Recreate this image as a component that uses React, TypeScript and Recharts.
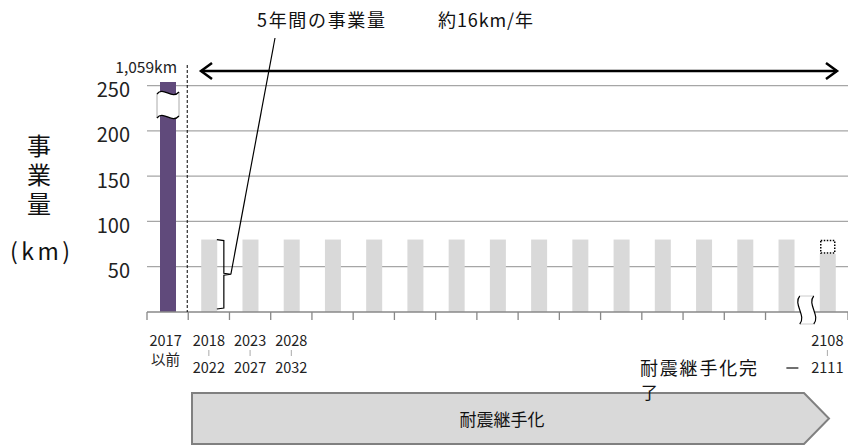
import React from 'react';
import { BarChart, Bar, XAxis, YAxis, CartesianGrid } from 'recharts';

// 事業量 (km) by period
const categories = [
  '2017以前', '2018-2022', '2023-2027', '2028-2032', '2033-2037', '2038-2042',
  '2043-2047', '2048-2052', '2053-2057', '2058-2062', '2063-2067', '2068-2072',
  '2073-2077', '2078-2082', '2083-2087', '2088-2092', '2108-2111'
];
const amounts = [1059, 80, 80, 80, 80, 80, 80, 80, 80, 80, 80, 80, 80, 80, 80, 80, 64];
const shortfall = [0, 0, 0, 0, 0, 0, 0, 0, 0, 0, 0, 0, 0, 0, 0, 0, 16];
const labelTop = ['2017', '2018', '2023', '2028', '', '', '', '', '', '', '', '', '', '', '', '', '2108'];
const labelBottom = ['以前', '2022', '2027', '2032', '', '', '', '', '', '', '', '', '', '', '', '', '2111'];
const yTicks = [50, 100, 150, 200, 250];

const W = 848;
const H = 445;
const Y_MAX = 254;
const MARGIN = { top: 82, right: 0, bottom: 103, left: 87 };
const Y_WIDTH = 60;
const X_HEIGHT = 30;
const PLOT_LEFT = MARGIN.left + Y_WIDTH;
const PLOT_BOTTOM = H - MARGIN.bottom - X_HEIGHT;
const PLOT_H = PLOT_BOTTOM - MARGIN.top;
const BAND = (W - MARGIN.right - PLOT_LEFT) / categories.length;
const BAR = 16;

const FONT = '"Noto Sans CJK JP", "Noto Sans", sans-serif';
const PURPLE = '#604a7b';
const GRAY = '#d9d9d9';

const yOf = (v: number) => PLOT_BOTTOM - (v / Y_MAX) * PLOT_H;

const data = categories.map((c, i) => ({ cat: c, amount: amounts[i], rest: shortfall[i] }));

const AmountShape = (props: any) => {
  const { x, y, width, height, index } = props;
  const fill = index === 0 ? PURPLE : GRAY;
  if (index !== 0) return <rect x={x} y={y} width={width} height={height} fill={fill} />;
  const cx = x + width / 2;
  const l = cx - 11;
  const r = cx + 11;
  const t = MARGIN.top + 11;
  const b = t + 24;
  return (
    <g>
      <rect x={x} y={y} width={width} height={height} fill={fill} />
      <path d={`M${l},${t + 1} C${l + 6},${t - 7} ${l + 15},${t + 7} ${r},${t - 1} L${r},${b - 1} C${l + 15},${b + 7} ${l + 6},${b - 7} ${l},${b + 1} Z`} fill="#fff" />
      <line x1={l} y1={t + 1} x2={l} y2={b + 1} stroke="#aaa" />
      <line x1={r} y1={t - 1} x2={r} y2={b - 1} stroke="#aaa" />
      <path d={`M${l},${t + 1} C${l + 6},${t - 7} ${l + 15},${t + 7} ${r},${t - 1}`} fill="none" stroke="#000" strokeWidth={1.3} />
      <path d={`M${l},${b + 1} C${l + 6},${b - 7} ${l + 15},${b + 7} ${r},${b - 1}`} fill="none" stroke="#000" strokeWidth={1.3} />
    </g>
  );
};

const RestShape = (props: any) => {
  const { x, y, width, height } = props;
  if (!height || height <= 0) return null;
  return (
    <rect x={x + 1} y={y + 1} width={width - 2} height={height - 2} fill="none"
      stroke="#000" strokeWidth={1.5} strokeDasharray="1.5 1.5" />
  );
};

const YTick = (props: any) => {
  const { y, payload } = props;
  return (
    <text x={PLOT_LEFT - 17} y={y + 3} textAnchor="end" dominantBaseline="central"
      fontSize={20} fill="#222" fontFamily={FONT}>{payload.value}</text>
  );
};

const XTick = (props: any) => {
  const { x, payload } = props;
  const i = payload.index ?? props.index;
  const half = BAND / 2;
  const last = i === categories.length - 1;
  const top = labelTop[i];
  const bottom = labelBottom[i];
  const ty = PLOT_BOTTOM;
  return (
    <g>
      <line x1={x - half} y1={ty} x2={x - half} y2={ty + 8} stroke="#888" strokeWidth={1.3} />
      {last && <line x1={x + half} y1={ty} x2={x + half} y2={ty + 8} stroke="#888" strokeWidth={1.3} />}
      {i === 0 && (
        <line x1={x + half - 1} y1={MARGIN.top - 17} x2={x + half - 1} y2={ty} stroke="#000"
          strokeWidth={1} strokeDasharray="3 2" />
      )}
      {top && (
        <text x={i === 0 ? x - 2 : x} y={ty + 27} textAnchor="middle" dominantBaseline="central"
          fontSize={14.5} fill="#222" fontFamily={FONT}>{top}</text>
      )}
      {bottom && (
        <text x={i === 0 ? x - 2 : x} y={i === 0 ? ty + 46 : ty + 54} textAnchor="middle" dominantBaseline="central"
          fontSize={14.5} fill="#222" fontFamily={FONT}>{bottom}</text>
      )}
      {i > 0 && top && (
        <line x1={x} y1={ty + 38} x2={x} y2={ty + 44} stroke="#aaa" strokeWidth={1} />
      )}
      {i === 1 && (() => {
        const bx = x + BAR / 2;
        const bt = yOf(amounts[1]);
        const bb = yOf(0) - 3;
        const bm = (bt + bb) / 2;
        return (
          <g>
            <path d={`M${bx},${bt} L${bx + 7},${bt + 1} L${bx + 7},${bm - 1} L${bx + 14},${bm} L${bx + 7},${bm + 1} L${bx + 7},${bb - 1} L${bx},${bb}`}
              fill="none" stroke="#000" strokeWidth={1.2} />
            <line x1={bx + 14} y1={bm} x2={275} y2={38} stroke="#000" strokeWidth={1.2} />
          </g>
        );
      })()}
      {last && (() => {
        const bx = x - half;
        const t = ty - 16;
        const b = ty + 12;
        const l = bx - 7;
        const r = bx + 7;
        return (
          <g>
            <path d={`M${l},${t} C${l - 7},${t + 8} ${l + 7},${b - 8} ${l},${b} L${r},${b} C${r + 7},${b - 8} ${r - 7},${t + 8} ${r},${t} Z`} fill="#fff" />
            <line x1={l} y1={t} x2={r} y2={t} stroke="#ccc" />
            <line x1={l} y1={b} x2={r} y2={b} stroke="#ccc" />
            <path d={`M${l},${t} C${l - 7},${t + 8} ${l + 7},${b - 8} ${l},${b}`} fill="none" stroke="#000" strokeWidth={1.2} />
            <path d={`M${r},${t} C${r - 7},${t + 8} ${r + 7},${b - 8} ${r},${b}`} fill="none" stroke="#000" strokeWidth={1.2} />
            <line x1={x - 41} y1={ty + 56} x2={x - 29} y2={ty + 56} stroke="#222" strokeWidth={1.3} />
          </g>
        );
      })()}
    </g>
  );
};

const Overlay: React.FC = () => (
  <svg width={W} height={H} style={{ position: 'absolute', left: 0, top: 0, pointerEvents: 'none' }}
    fontFamily={FONT}>
    <text x={257} y={19} dominantBaseline="central" fontSize={18} textLength={128} fill="#111">5年間の事業量</text>
    <text x={438} y={19} dominantBaseline="central" fontSize={18} textLength={95} fill="#111">約16km/年</text>
    <text x={177} y={66} textAnchor="end" dominantBaseline="central" fontSize={15.5} fill="#222">1,059km</text>

    {/* double arrow */}
    <line x1={201} y1={71} x2={837} y2={71} stroke="#000" strokeWidth={2.5} />
    <polyline points="212,63 201,71 212,79" fill="none" stroke="#000" strokeWidth={2.5} />
    <polyline points="826,63 837,71 826,79" fill="none" stroke="#000" strokeWidth={2.5} />

    {/* y axis title, vertical */}
    <text x={39} y={134} fontSize={24} fill="#111" letterSpacing={5}
      style={{ writingMode: 'vertical-rl' }}>事業量</text>
    <text x={10} y={250} dominantBaseline="central" fontSize={23} textLength={60} fill="#111">(km)</text>

    {/* bottom period arrow */}
    <polygon points="192,393 804,393 829,418.5 804,444 192,444" fill={GRAY} stroke="#808080" strokeWidth={2} />
    <text x={502} y={418} textAnchor="middle" dominantBaseline="central" fontSize={17} fill="#111">耐震継手化</text>
    <text x={640} y={367} dominantBaseline="central" fontSize={18} textLength={117} fill="#111">耐震継手化完</text>
    <text x={641} y={391} dominantBaseline="central" fontSize={17} fill="#111">了</text>
  </svg>
);

const App: React.FC = () => (
  <div style={{ position: 'absolute', left: 0, top: 0, width: W, height: H, background: '#fff', fontFamily: FONT }}>
    <BarChart width={W} height={H} data={data} margin={MARGIN} barCategoryGap={0}>
      <CartesianGrid vertical={false} stroke="#a6a6a6" strokeWidth={1.2} horizontalValues={yTicks} />
      <XAxis dataKey="cat" height={X_HEIGHT} tickLine={false} axisLine={{ stroke: '#888', strokeWidth: 1.3 }}
        tick={<XTick />} interval={0} />
      <YAxis width={Y_WIDTH} domain={[0, Y_MAX]} ticks={yTicks} allowDataOverflow axisLine={false}
        tickLine={false} tick={<YTick />} />
      <Bar dataKey="amount" stackId="s" barSize={BAR} shape={<AmountShape />} isAnimationActive={false} />
      <Bar dataKey="rest" stackId="s" barSize={BAR} shape={<RestShape />} isAnimationActive={false} />
    </BarChart>
    <Overlay />
  </div>
);

export default App;
